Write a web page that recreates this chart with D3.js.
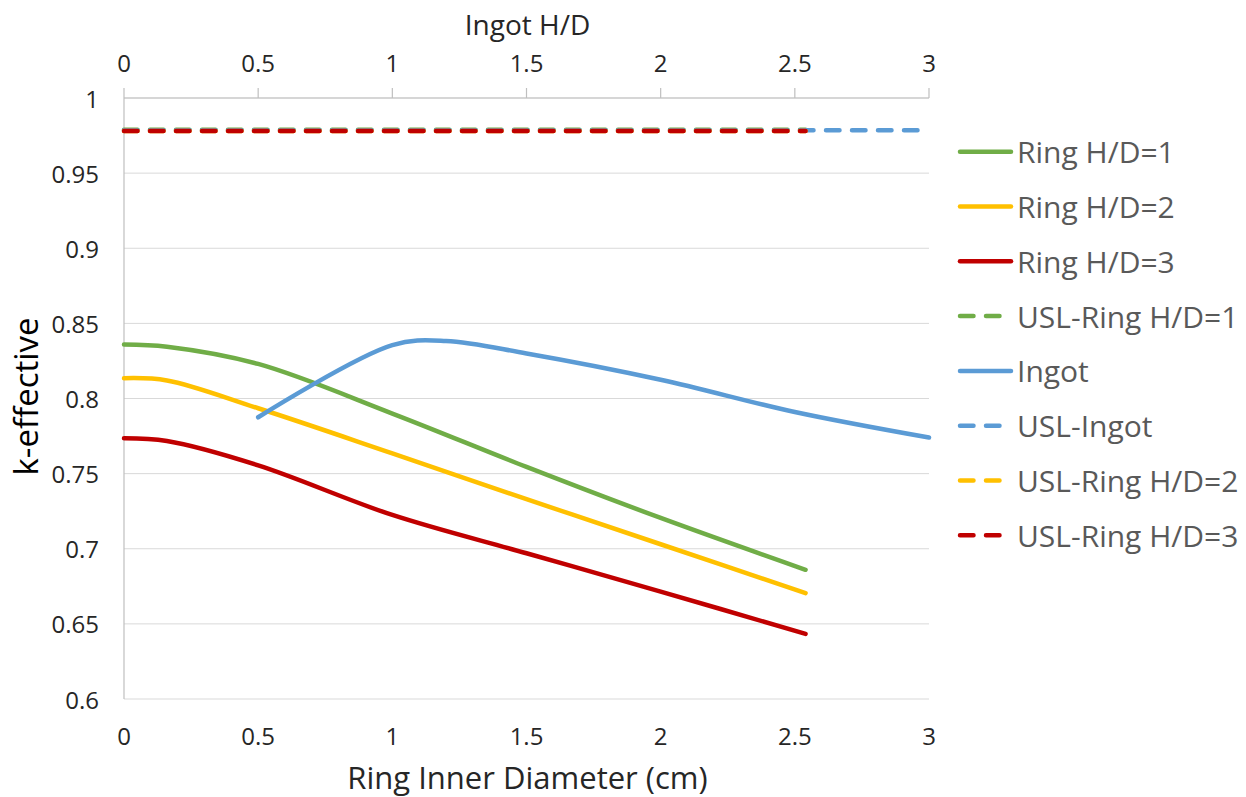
<!DOCTYPE html>
<html>
<head>
<meta charset="utf-8">
<script src="https://cdn.jsdelivr.net/npm/d3@7"></script>
<style>
  html, body { margin: 0; padding: 0; background: #fff; }
  svg text { font-family: "Open Sans", "Noto Sans", sans-serif; }
</style>
</head>
<body>
<svg id="chart" width="1246" height="797"></svg>
<script>
// Ring curves: k-effective against ring inner diameter (cm), bottom axis
const ringDiameter = [0, 0.16, 0.5, 1.0, 1.5, 2.0, 2.54];
const ringHD1 = [0.836, 0.8345, 0.823, 0.790, 0.7545, 0.7205, 0.686];
const ringHD2 = [0.8135, 0.812, 0.7935, 0.7635, 0.733, 0.703, 0.6705];
const ringHD3 = [0.7735, 0.7717, 0.7555, 0.7225, 0.697, 0.6715, 0.6433];

// Ingot curve: k-effective against ingot H/D, top axis
const ingotHD = [0.5, 1.0, 1.2, 1.5, 2.0, 2.5, 3.0];
const ingotK = [0.7875, 0.8355, 0.8383, 0.830, 0.8125, 0.791, 0.774];

// Upper subcritical limits
const uslRingX = [0, 2.54];
const uslRing1 = [0.9788, 0.9788];
const uslRing2 = [0.9781, 0.9781];
const uslRing3 = [0.978, 0.978];
const uslIngotX = [0, 3];
const uslIngot = [0.9786, 0.9786];

// Axis ticks
const xTicks = [0, 0.5, 1, 1.5, 2, 2.5, 3];
const yTicks = [0.6, 0.65, 0.7, 0.75, 0.8, 0.85, 0.9, 0.95, 1];

const colors = { green: "#70AD47", yellow: "#FFC000", red: "#C00000", blue: "#5B9BD5" };

const svg = d3.select("#chart");
const plotL = 124, plotR = 929, plotT = 98, plotB = 699;

const x = d3.scaleLinear().domain([0, 3]).range([plotL, plotR]);   // ring inner diameter
const x2 = d3.scaleLinear().domain([0, 3]).range([plotL, plotR]);  // ingot H/D
const y = d3.scaleLinear().domain([0.6, 1]).range([plotB, plotT]);

// gridlines
svg.append("g").selectAll("line").data(yTicks).join("line")
  .attr("x1", plotL).attr("x2", plotR)
  .attr("y1", d => y(d)).attr("y2", d => y(d))
  .attr("stroke", "#d9d9d9").attr("stroke-width", 1);

// left axis line
svg.append("line").attr("x1", plotL).attr("x2", plotL).attr("y1", plotT).attr("y2", plotB)
  .attr("stroke", "#bfbfbf").attr("stroke-width", 1.2);

// top axis line with outward ticks
svg.append("line").attr("x1", plotL).attr("x2", plotR).attr("y1", plotT).attr("y2", plotT)
  .attr("stroke", "#bfbfbf").attr("stroke-width", 1.2);
svg.append("g").selectAll("line").data(xTicks).join("line")
  .attr("x1", d => x2(d)).attr("x2", d => x2(d))
  .attr("y1", plotT - 10).attr("y2", plotT)
  .attr("stroke", "#bfbfbf").attr("stroke-width", 1.2);

// y tick labels
svg.append("g").selectAll("text").data(yTicks).join("text")
  .attr("x", 99).attr("y", d => y(d))
  .attr("text-anchor", "end").attr("dominant-baseline", "central")
  .attr("font-size", 24).attr("fill", "#262626")
  .text(d => d3.format("")(d));

// bottom tick labels
svg.append("g").selectAll("text").data(xTicks).join("text")
  .attr("x", d => x(d)).attr("y", 735)
  .attr("text-anchor", "middle").attr("dominant-baseline", "central")
  .attr("font-size", 24).attr("fill", "#262626")
  .text(d => d3.format("")(d));

// top tick labels
svg.append("g").selectAll("text").data(xTicks).join("text")
  .attr("x", d => x2(d)).attr("y", 62)
  .attr("text-anchor", "middle").attr("dominant-baseline", "central")
  .attr("font-size", 24).attr("fill", "#262626")
  .text(d => d3.format("")(d));

// axis titles
svg.append("text").attr("x", (plotL + plotR) / 2 + 1).attr("y", 24)
  .attr("text-anchor", "middle").attr("dominant-baseline", "central")
  .attr("font-size", 28).attr("fill", "#262626").text("Ingot H/D");
svg.append("text").attr("x", (plotL + plotR) / 2 + 1).attr("y", 777)
  .attr("text-anchor", "middle").attr("dominant-baseline", "central")
  .attr("font-size", 31).attr("fill", "#262626").text("Ring Inner Diameter (cm)");
svg.append("text").attr("transform", `translate(25,${(plotT + plotB) / 2 - 2}) rotate(-90)`)
  .attr("text-anchor", "middle").attr("dominant-baseline", "central")
  .attr("font-size", 33).attr("fill", "#000").text("k-effective");

const curve = d3.curveCatmullRom.alpha(0.5);
const lineFor = (xs, sx) => d3.line().x((d, i) => sx(xs[i])).y(d => y(d)).curve(curve);

const series = [
  { name: "Ring H/D=1", xs: ringDiameter, ys: ringHD1, sx: x, color: colors.green, dash: false },
  { name: "Ring H/D=2", xs: ringDiameter, ys: ringHD2, sx: x, color: colors.yellow, dash: false },
  { name: "Ring H/D=3", xs: ringDiameter, ys: ringHD3, sx: x, color: colors.red, dash: false },
  { name: "USL-Ring H/D=1", xs: uslRingX, ys: uslRing1, sx: x, color: colors.green, dash: true },
  { name: "Ingot", xs: ingotHD, ys: ingotK, sx: x2, color: colors.blue, dash: false },
  { name: "USL-Ingot", xs: uslIngotX, ys: uslIngot, sx: x2, color: colors.blue, dash: true },
  { name: "USL-Ring H/D=2", xs: uslRingX, ys: uslRing2, sx: x, color: colors.yellow, dash: true },
  { name: "USL-Ring H/D=3", xs: uslRingX, ys: uslRing3, sx: x, color: colors.red, dash: true }
];

const lw = 4.5;
const dashPattern = "13.5,12.5";

svg.append("g").selectAll("path").data(series).join("path")
  .attr("d", s => lineFor(s.xs, s.sx)(s.ys))
  .attr("fill", "none")
  .attr("stroke", s => s.color)
  .attr("stroke-width", lw)
  .attr("stroke-linecap", "round")
  .attr("stroke-linejoin", "round")
  .attr("stroke-dasharray", s => s.dash ? dashPattern : null);

// legend
const leg = svg.append("g");
const legY0 = 151.7, legStep = 54.8;
series.forEach((s, i) => {
  const cy = legY0 + i * legStep;
  leg.append("line")
    .attr("x1", 960).attr("x2", s.dash ? 1001 : 1011)
    .attr("y1", cy).attr("y2", cy)
    .attr("stroke", s.color).attr("stroke-width", lw)
    .attr("stroke-linecap", "round")
    .attr("stroke-dasharray", s.dash ? dashPattern : null);
  leg.append("text")
    .attr("x", 1017).attr("y", cy)
    .attr("dominant-baseline", "central")
    .attr("font-size", 30).attr("fill", "#595959")
    .text(s.name);
});
</script>
</body>
</html>
